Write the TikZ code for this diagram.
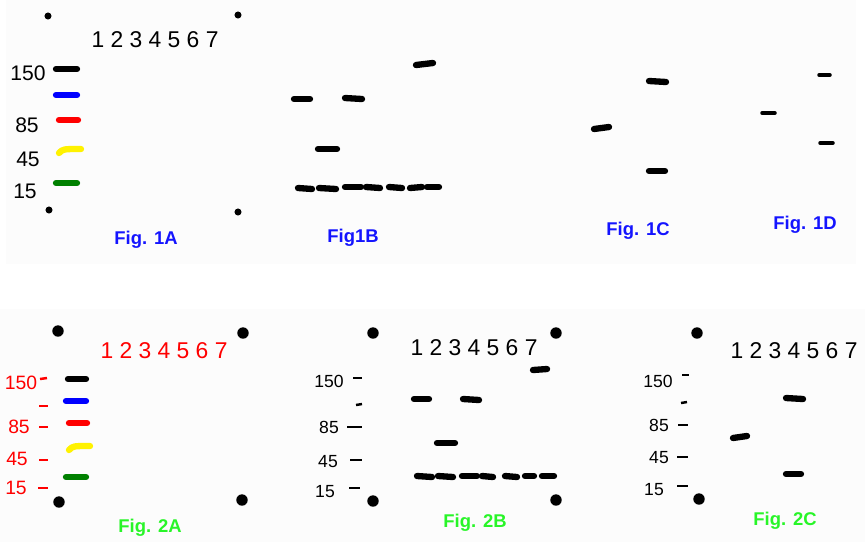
\documentclass[tikz,border=0pt]{standalone}
\usepackage{fontspec}
\setmainfont{Liberation Sans}
\usepackage{tikz}
\pgfdeclarelayer{nodelayer}
\pgfdeclarelayer{edgelayer}
\pgfsetlayers{main,edgelayer,nodelayer}
\definecolor{figblue}{RGB}{20,20,255}
\definecolor{figgreen}{RGB}{40,245,40}
\definecolor{markgreen}{RGB}{0,128,0}
\tikzstyle{spot}=[fill=black, shape=circle, inner sep=0pt, minimum size=4pt]
\tikzstyle{big spot}=[fill=black, shape=circle, inner sep=0pt, minimum size=6.5pt]
\tikzstyle{lanes}=[inner sep=0pt, font=\fontsize{13}{13}\selectfont]
\tikzstyle{size}=[inner sep=0pt, font=\fontsize{12}{12}\selectfont]
\tikzstyle{red size}=[inner sep=0pt, text=red, font=\fontsize{11}{11}\selectfont]
\tikzstyle{small size}=[inner sep=0pt, font=\fontsize{10}{10}\selectfont]
\tikzstyle{caption}=[inner sep=0pt, font=\bfseries\fontsize{10.5}{10.5}\selectfont]
\tikzstyle{band}=[line width=3.6pt, line cap=round]
\tikzstyle{thin band}=[line width=2pt, line cap=round]
\tikzstyle{tick}=[line width=1.4pt]

\begin{document}
\begin{tikzpicture}[x=0.02cm, y=-0.02cm]
    	\useasboundingbox (0,0) rectangle (865,542);
    	\fill [black!1] (6,0) rectangle (856,264);
    	\fill [black!1] (0,309) rectangle (865,542);
    	\begin{pgfonlayer}{nodelayer}
    		% Fig. 1A
    		\node [style=spot] (s1) at (48,16) {};
    		\node [style=spot] (s2) at (238,15) {};
    		\node [style=spot] (s3) at (49,210) {};
    		\node [style=spot] (s4) at (238,212) {};
    		\node [style=lanes] (l1) at (155,40) {1 2 3 4 5 6 7};
    		\node [style=size] (m1) at (28,73) {150};
    		\node [style=size] (m2) at (27,125) {85};
    		\node [style=size] (m3) at (28,159) {45};
    		\node [style=size] (m4) at (25,191) {15};
    		\node [style=caption, text=figblue] (c1) at (146,240) {Fig. 1A};
    		\node [style=caption, text=figblue] (c2) at (353,238) {Fig1B};
    		\node [style=caption, text=figblue] (c3) at (638,231) {Fig. 1C};
    		\node [style=caption, text=figblue] (c4) at (805,225) {Fig. 1D};
    		% Fig. 2A
    		\node [style=big spot] (s5) at (58,331) {};
    		\node [style=big spot] (s6) at (243,333) {};
    		\node [style=big spot] (s7) at (59,502) {};
    		\node [style=big spot] (s8) at (242,500) {};
    		\node [style=lanes, text=red] (l2) at (164,351) {1 2 3 4 5 6 7};
    		\node [style=red size] (m5) at (21,383) {150};
    		\node [style=red size] (m6) at (19,427) {85};
    		\node [style=red size] (m7) at (17,459) {45};
    		\node [style=red size] (m8) at (16,488) {15};
    		\node [style=caption, text=figgreen] (c5) at (150,528) {Fig. 2A};
    		% Fig. 2B
    		\node [style=big spot] (s9) at (373,333) {};
    		\node [style=big spot] (s10) at (556,333) {};
    		\node [style=big spot] (s11) at (373,501) {};
    		\node [style=big spot] (s12) at (556,500) {};
    		\node [style=lanes] (l3) at (474,348) {1 2 3 4 5 6 7};
    		\node [style=small size] (m9) at (329,381) {150};
    		\node [style=small size] (m10) at (329,427) {85};
    		\node [style=small size] (m11) at (328,462) {45};
    		\node [style=small size] (m12) at (325,492) {15};
    		\node [style=caption, text=figgreen] (c6) at (475,523) {Fig. 2B};
    		% Fig. 2C
    		\node [style=big spot] (s13) at (697,333) {};
    		\node [style=big spot] (s14) at (699,499) {};
    		\node [style=lanes] (l4) at (794,351) {1 2 3 4 5 6 7};
    		\node [style=small size] (m13) at (658,381) {150};
    		\node [style=small size] (m14) at (659,425) {85};
    		\node [style=small size] (m15) at (659,458) {45};
    		\node [style=small size] (m16) at (654,490) {15};
    		\node [style=caption, text=figgreen] (c7) at (785,521) {Fig. 2C};
    	\end{pgfonlayer}
    	\begin{pgfonlayer}{edgelayer}
    		% marker lanes
    		\draw [style=band] (56,69) -- (77,69);
    		\draw [style=band, blue] (56,95) -- (77,95);
    		\draw [style=band, red] (59,120) -- (78,120);
    		\draw [style=band, yellow] (59,153) .. controls (63,149) .. (81,149);
    		\draw [style=band, markgreen] (56,183) -- (77,183);
    		\draw [style=band] (68,379) -- (86,379);
    		\draw [style=band, blue] (66,401) -- (86,401);
    		\draw [style=band, red] (69,423) -- (87,423);
    		\draw [style=band, yellow] (69,450) .. controls (73,446) .. (90,446);
    		\draw [style=band, markgreen] (66,477) -- (86,477);
    		% ticks
    		\draw [style=tick, red] (40,379) -- (47,378);
    		\draw [style=tick, red] (39,406) -- (48,406);
    		\draw [style=tick, red] (39,427) -- (48,427);
    		\draw [style=tick, red] (39,460) -- (48,460);
    		\draw [style=tick, red] (38,488) -- (48,488);
    		\draw [style=tick] (353,378) -- (362,378);
    		\draw [style=tick] (356,405) -- (362,404);
    		\draw [style=tick] (347,427) -- (362,427);
    		\draw [style=tick] (350,460) -- (362,460);
    		\draw [style=tick] (349,488) -- (360,488);
    		\draw [style=tick] (682,375) -- (689,375);
    		\draw [style=tick] (681,403) -- (687,402);
    		\draw [style=tick] (678,425) -- (688,425);
    		\draw [style=tick] (677,457) -- (688,457);
    		\draw [style=tick] (677,486) -- (688,486);
    		% Fig1B
    		\draw [style=band] (294,99) -- (310,99);
    		\draw [style=band] (345,98) -- (362,99);
    		\draw [style=band] (416,65) -- (433,63);
    		\draw [style=band] (318,149) -- (337,149);
    		\draw [style=band] (298,188) -- (312,189);
    		\draw [style=band] (319,188) -- (336,189);
    		\draw [style=band] (345,187) -- (361,187);
    		\draw [style=band] (366,187) -- (380,188);
    		\draw [style=band] (389,187) -- (402,188);
    		\draw [style=band] (410,188) -- (422,187);
    		\draw [style=band] (427,187) -- (439,187);
    		% Fig. 1C
    		\draw [style=band] (649,81) -- (666,82);
    		\draw [style=band] (594,129) -- (609,127);
    		\draw [style=band] (649,171) -- (665,171);
    		% Fig. 1D
    		\draw [style=thin band] (762,113) -- (775,113);
    		\draw [style=thin band] (819,75) -- (830,75);
    		\draw [style=thin band] (820,143) -- (833,143);
    		% Fig. 2B
    		\draw [style=band] (414,399) -- (429,399);
    		\draw [style=band] (463,399) -- (479,400);
    		\draw [style=band] (437,443) -- (455,443);
    		\draw [style=band] (533,370) -- (547,369);
    		\draw [style=band] (417,476) -- (432,477);
    		\draw [style=band] (438,476) -- (453,477);
    		\draw [style=band] (462,476) -- (477,476);
    		\draw [style=band] (482,476) -- (493,477);
    		\draw [style=band] (505,476) -- (517,477);
    		\draw [style=band] (525,476) -- (534,476);
    		\draw [style=band] (542,476) -- (554,476);
    		% Fig. 2C
    		\draw [style=band] (733,438) -- (747,436);
    		\draw [style=band] (786,398) -- (803,399);
    		\draw [style=band] (786,474) -- (801,474);
    	\end{pgfonlayer}
    \end{tikzpicture}
\end{document}
